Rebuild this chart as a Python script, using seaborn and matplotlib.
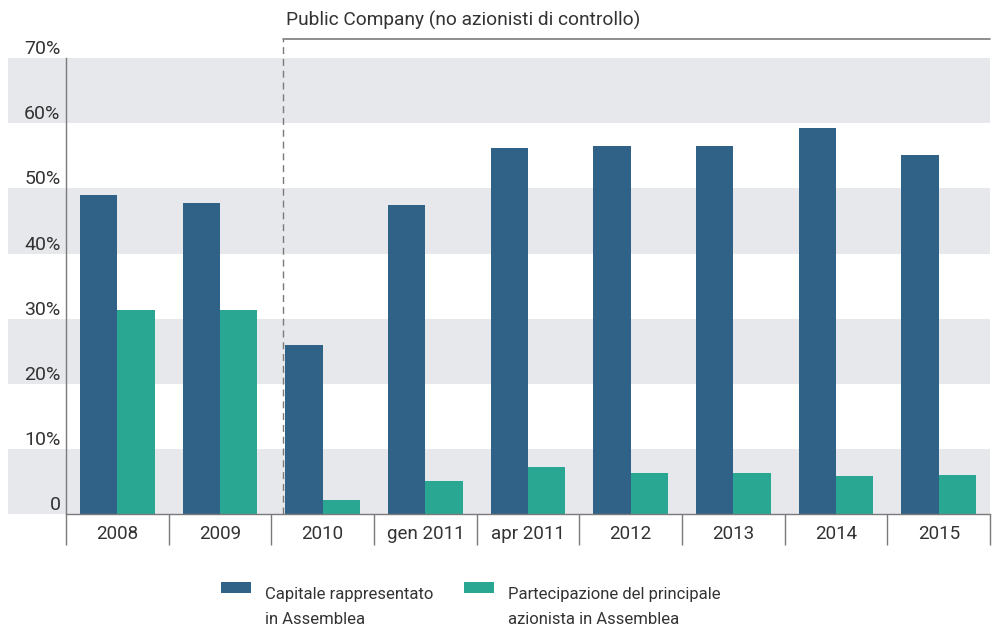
import pandas as pd
import seaborn as sns
import matplotlib.pyplot as plt
import matplotlib.transforms as mtransforms
from matplotlib.patches import Rectangle
from matplotlib.legend_handler import HandlerPatch

# Dati (valori in %)
anni = ['2008', '2009', '2010', 'gen 2011', 'apr 2011', '2012', '2013', '2014', '2015']
capitale = [49.0, 47.8, 26.0, 47.5, 56.2, 56.5, 56.5, 59.3, 55.1]
principale = [31.3, 31.3, 2.2, 5.0, 7.2, 6.3, 6.3, 5.8, 6.0]

serie = ['Capitale rappresentato\nin Assemblea',
         'Partecipazione del principale\nazionista in Assemblea']
y_ticks = [0, 10, 20, 30, 40, 50, 60, 70]
y_labels = ['0', '10%', '20%', '30%', '40%', '50%', '60%', '70%']

df = pd.DataFrame({
    'anno': anni * 2,
    'valore': capitale + principale,
    'serie': [serie[0]] * len(anni) + [serie[1]] * len(anni),
})

sns.set_style('white')
plt.rcParams['font.family'] = ['Roboto', 'DejaVu Sans']
text_col = '#333333'
line_col = '#7a7a7a'

fig = plt.figure(figsize=(9.95, 6.32), dpi=100)
ax = fig.add_axes([0.0663, 0.1867, 0.9287, 0.7213])

# fasce grigie alternate
for lo in y_ticks[::2]:
    ax.axhspan(lo, lo + 10, xmin=-0.063, xmax=1, color='#e7e8ec', zorder=0, clip_on=False, lw=0)

sns.barplot(data=df, x='anno', y='valore', hue='serie', ax=ax,
            palette=['#2f6286', '#2aa792'], width=0.73, saturation=1, zorder=2,
            edgecolor='none', linewidth=0)

ax.set_ylim(0, 70)
ax.set_xlim(-0.5, len(anni) - 0.5)
ax.set_yticks(y_ticks)
ax.set_yticklabels(y_labels, fontsize=14, color=text_col)
shift_up = mtransforms.ScaledTranslation(0, 3 / 72, fig.dpi_scale_trans)
for lab in ax.get_yticklabels():
    lab.set_va('bottom')
    lab.set_transform(lab.get_transform() + shift_up)
ax.tick_params(axis='y', length=0, pad=4)

# separatori tra le categorie sotto l'asse
ax.set_xticks([i - 0.5 for i in range(len(anni) + 1)], minor=True)
ax.tick_params(axis='x', which='minor', bottom=True, length=22, width=1, color=line_col, direction='out')
ax.tick_params(axis='x', which='major', length=0, pad=8, labelsize=13.5, labelcolor=text_col)
ax.set_xlabel('')
ax.set_ylabel('')

for s in ['top', 'right']:
    ax.spines[s].set_visible(False)
for s in ['left', 'bottom']:
    ax.spines[s].set_color(line_col)
    ax.spines[s].set_linewidth(1)

# riquadro "Public Company"
x_div = 1.61
ax.plot([x_div, x_div], [0, 73], ls=(0, (5, 3.5)), color=line_col, lw=1, clip_on=False, zorder=3)
ax.plot([x_div, len(anni) - 0.5], [73, 73], color=line_col, lw=1.2, clip_on=False, zorder=3)
ax.text(x_div + 0.03, 75.8, 'Public Company (no azionisti di controllo)',
        fontsize=13.8, color=text_col, va='center', ha='left')


# quadratino della legenda allineato alla prima riga
def top_patch(legend, orig_handle, xdescent, ydescent, width, height, fontsize):
    return Rectangle((-xdescent, -ydescent + 14), width, height)


leg = ax.get_legend()
handles = leg.legend_handles
leg.remove()
leg = fig.legend(handles, serie, loc='upper left', bbox_to_anchor=(221 / 995, 1 - 587 / 632),
                 ncol=2, frameon=False, fontsize=12, handlelength=1.8, handleheight=0.65,
                 handletextpad=0.85, columnspacing=1.8, labelcolor=text_col,
                 borderpad=0, borderaxespad=0,
                 handler_map={Rectangle: HandlerPatch(patch_func=top_patch)})
for t in leg.get_texts():
    t.set_linespacing(1.8)

fig.savefig('out.png', dpi=100)
